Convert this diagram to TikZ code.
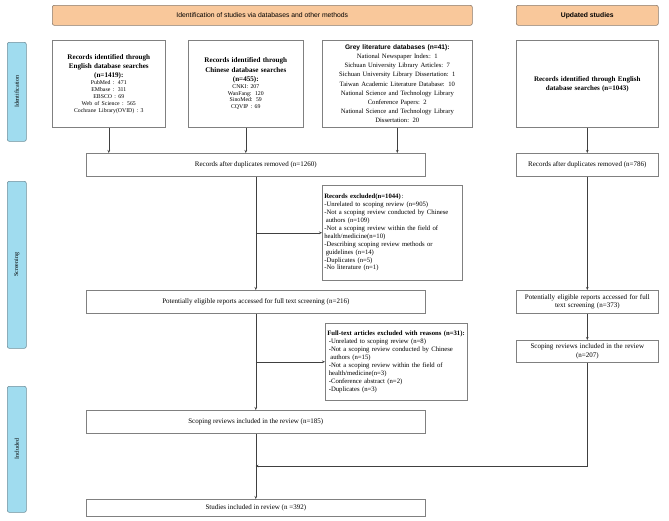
\documentclass[tikz,border=0pt]{standalone}
\usepackage{fontspec}
\setmainfont{Liberation Serif}
\setsansfont{Liberation Sans}
\usetikzlibrary{arrows.meta}
\definecolor{hdr}{HTML}{F9C89B}
\definecolor{hdrb}{HTML}{8A7A6C}
\definecolor{side}{HTML}{A0DCEF}
\definecolor{sideb}{HTML}{6F8F9A}
\definecolor{bord}{HTML}{808080}
\definecolor{ln}{HTML}{404040}
\begin{document}
\begin{tikzpicture}[x=1pt,y=-1pt,
  box/.style={draw=bord,line width=0.6pt,fill=white,inner sep=2pt,anchor=north west,align=center,
    font=\fontsize{7}{8.5}\selectfont},
  hdrbox/.style={draw=hdrb,line width=0.6pt,fill=hdr,rounded corners=2pt,anchor=north west,
    font=\sffamily\fontsize{6.8}{8}\selectfont},
  sidebox/.style={draw=sideb,line width=0.6pt,fill=side,rounded corners=2pt,anchor=north west},
  sidelabel/.style={rotate=90,font=\fontsize{6}{7}\selectfont},
  arr/.style={draw=ln,line width=0.6pt,-{Stealth[length=3pt,width=2.6pt]}}
]
\useasboundingbox (0,0) rectangle (669,520);

% headers
\node[hdrbox,minimum width=420pt,minimum height=20pt] (h1) at (52,5) {Identification of studies via databases and other methods};
\node[hdrbox,minimum width=142pt,minimum height=20pt] (h2) at (516,5) {\bfseries Updated studies};

% side bars
\node[sidebox,minimum width=19pt,minimum height=99pt] (s1) at (7,42) {};
\node[sidelabel] (s1t) at (s1.center) {Identification};
\node[sidebox,minimum width=19pt,minimum height=167pt] (s2) at (7,181) {};
\node[sidelabel] (s2t) at (s2.center) {Screening};
\node[sidebox,minimum width=19pt,minimum height=126pt] (s3) at (7,386) {};
\node[sidelabel] (s3t) at (s3.center) {Included};

% identification boxes
\node[box,minimum width=113pt,minimum height=87pt,text width=109pt] (eng) at (52,40)
 {\centering\fontsize{7.1}{9.2}\selectfont\bfseries Records identified through\\English database searches\\(n=1419):\par
  \fontsize{5.8}{6.9}\selectfont\mdseries PubMed : 471\\EMbase : 311\\EBSCO : 69\\Web of Science : 565\\Cochrane Library(OVID) : 3\par};
\node[box,minimum width=115pt,minimum height=87pt,text width=111pt] (chn) at (188,40)
 {\centering\fontsize{7.1}{9.2}\selectfont\bfseries Records identified through\\Chinese database searches\\(n=455):\par
  \fontsize{5.8}{6.9}\selectfont\mdseries CNKI: 207\\WanFang: 120\\SinoMed: 59\\CQVIP : 69\par
  \vspace{6pt}};
\node[box,minimum width=150pt,minimum height=87pt,text width=146pt] (grey) at (322,40)
 {\centering\fontsize{6.6}{9.2}\selectfont{\sffamily\bfseries Grey literature databases (n=41):}\par
  \fontsize{6.6}{9.2}\selectfont National Newspaper Index: 1\\Sichuan University Library Articles: 7\\Sichuan University Library Dissertation: 1\\Taiwan Academic Literature Database: 10\\National Science and Technology Library\\Conference Papers: 2\\National Science and Technology Library\\Dissertation: 20\par};
\node[box,minimum width=142pt,minimum height=87pt,text width=138pt] (upd) at (516,40)
 {\centering\bfseries\fontsize{7}{9}\selectfont Records identified through English\\database searches (n=1043)\par};

% screening
\node[box,minimum width=339pt,minimum height=23pt] (dup) at (86,153) {Records after duplicates removed (n=1260)};
\node[box,minimum width=142pt,minimum height=23pt] (udup) at (516,153) {Records after duplicates removed (n=786)};
\node[box,minimum width=140pt,minimum height=95pt,text width=136pt,align=left] (excl) at (322,185)
 {\raggedright\fontsize{6.7}{7.9}\selectfont\textbf{Records excluded(n=1044)}\,:\\
 -Unrelated to scoping review (n=905)\\
 -Not a scoping review conducted by Chinese\\
 \hspace*{1.5pt}authors (n=109)\\
 -Not a scoping review within the field of\\
 health/medicine(n=10)\\
 -Describing scoping review methods or\\
 \hspace*{1.5pt}guidelines (n=14)\\
 -Duplicates (n=5)\\
 -No literature (n=1)\par};
\node[box,minimum width=339pt,minimum height=23pt] (elig) at (86,290) {Potentially eligible reports accessed for full text screening (n=216)};
\node[box,minimum width=142pt,minimum height=23pt,text width=138pt] (uelig) at (516,290)
 {\centering Potentially eligible reports accessed for full\\text screening (n=373)\par};
\node[box,minimum width=142pt,minimum height=77pt,text width=138pt,align=left] (ft) at (325,323)
 {\raggedright\fontsize{6.7}{8}\selectfont\textbf{Full-text articles excluded with reasons (n=31):}\\
 \hspace*{1.5pt}-Unrelated to scoping review (n=8)\\
 \hspace*{1.5pt}-Not a scoping review conducted by Chinese\\
 \hspace*{3pt}authors (n=15)\\
 \hspace*{1.5pt}-Not a scoping review within the field of\\
 \hspace*{1.5pt}health/medicine(n=3)\\
 \hspace*{1.5pt}-Conference abstract (n=2)\\
 \hspace*{1.5pt}-Duplicates (n=3)\par};

% included
\node[box,minimum width=339pt,minimum height=23pt] (scop) at (86,410) {Scoping reviews included in the review (n=185)};
\node[box,minimum width=142pt,minimum height=22pt,text width=138pt] (uscop) at (516,340)
 {\centering Scoping reviews included in the review\\(n=207)\par};
\node[box,minimum width=339pt,minimum height=17pt] (stud) at (86,499) {Studies included in review (n =392)};

% connectors
\draw[arr] (eng.south) -- (eng.south |- dup.north);
\draw[arr] (chn.south) -- (chn.south |- dup.north);
\draw[arr] (grey.south) -- (grey.south |- dup.north);
\draw[arr] (upd.south) -- (udup.north);
\draw[arr] (udup.south) -- (uelig.north);
\draw[arr] (uelig.south) -- (uscop.north);
\draw[arr] (dup.south) -- (elig.north);
\draw[arr] (excl.west -| dup.south) -- (excl.west);
\draw[arr] (elig.south) -- (scop.north);
\draw[arr] (ft.west -| elig.south) -- (ft.west);
\draw[arr] (scop.south) -- (stud.north);
\coordinate (join) at (255.5,466);
\draw[arr] (uscop.south) |- (join);
\end{tikzpicture}
\end{document}
